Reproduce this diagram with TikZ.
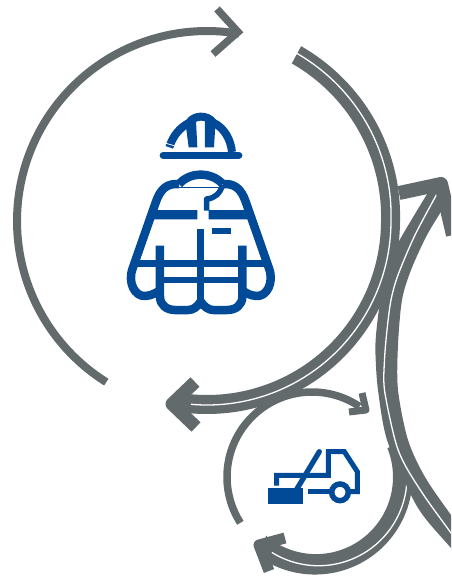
\documentclass[tikz,border=0pt]{standalone}
\definecolor{band}{HTML}{626A6C}
\definecolor{icon}{HTML}{004A98}
\tikzset{
  thinarc/.style={draw=band,line width=8pt},
  gap/.style={draw=white,line width=1.3pt},
  headline/.style={draw=band,line join=round,line cap=butt},
  ico/.style={draw=icon,line width=8.5pt,line cap=butt,line join=round},
  icofill/.style={fill=icon,draw=none}
}
\begin{document}
\begin{tikzpicture}[x=1pt,y=-1pt]
\useasboundingbox (0,0) rectangle (451,576);
\clip (0,0) rectangle (451,576);
% thin arcs
\draw[thinarc] plot[domain=238:80.3,samples=60,variable=\t,smooth] ({207+190*cos(\t)},{221-190*sin(\t)});
\draw[headline,line width=7.5pt,miter limit=10,line join=miter] (217,9) -- (238,32) -- (213,54);
\draw[thinarc,line width=7.5pt] plot[domain=212.6:56,samples=50,variable=\t,smooth] ({312+85*cos(\t)},{477-85*sin(\t)});
\draw[headline,line width=7pt] (362,393) -- (366,410) -- (349,412);
% band 3
\fill[band] plot[domain=21:-128,samples=60,variable=\t,smooth] ({312+(77+4*cos(\t))*cos(\t)},{477-(77+4*cos(\t))*sin(\t)})
  -- (262,550)
  -- plot[domain=-115:21,samples=60,variable=\t,smooth] ({312+(97.5+3*cos(\t))*cos(\t)},{477-(97.5+3*cos(\t))*sin(\t)}) -- cycle;
\draw[gap] plot[domain=14:-118,samples=60,variable=\t,smooth] ({312+(88.5+6.5*cos(\t))*cos(\t)},{477-(88.5+6.5*cos(\t))*sin(\t)});
\draw[headline,line width=11pt] (285,538) -- (259,545) -- (269,571);
% band 2
\fill[band] plot[smooth] coordinates {(432,186)(398,243)(388,270)(380,303)(376,335)(375.5,355)(378,390)(387,440)(411,495)(425,518)(451,548)(470,570)}
  -- plot[smooth] coordinates {(470,540)(451,515)(425,477)(408,440)(398,390)(398,345)(402,300)(411,270)(427,235)(446,203)(449,190)} -- cycle;
\draw[gap] plot[smooth] coordinates {(438,192)(415,235)(398,275)(391,300)(387,330)(384.5,360)(384.5,390)(395,440)(405,465)(425,497)(451,533)(470,560)};
\draw[headline,line width=14pt] (399,193) -- (441,184) -- (453,235);
% band 1
\fill[band] plot[domain=61.7:-99,samples=80,variable=\t,smooth] ({207+(174+max(\t,0)*0.08)*cos(\t)},{221-(174+max(\t,0)*0.08)*sin(\t)})
  -- (176,404)
  -- plot[domain=-99:61.7,samples=80,variable=\t,smooth] ({207+(193+max(\t,0)*0.09)*cos(\t)},{221-(193+max(\t,0)*0.09)*sin(\t)}) -- cycle;
\draw[gap] plot[domain=63:-95,samples=80,variable=\t,smooth] ({207+(184+max(\t,0)*0.1)*cos(\t)},{221-(184+max(\t,0)*0.1)*sin(\t)});
\draw[headline,line width=13pt] (195,382) -- (172,404) -- (196,427);
% helmet and jacket
\begin{scope}[x=0.33333pt,y=-0.33333pt,shift={(330,300)}]
\draw[ico,line width=7.5pt,line cap=round] (160,166) -- (386,166);
\draw[ico,line width=8pt] (178,142) .. controls (188,108) and (210,82) .. (238,68) .. controls (250,46) and (292,42) .. (310,68) .. controls (345,85) and (362,120) .. (366,156);
\fill[icon] (228,80) -- (258,62) -- (262,142) -- (236,142) -- cycle;
\fill[icon] (285,60) -- (316,75) -- (312,142) -- (285,142) -- cycle;
\draw[white,line width=0.8pt] (168,130) -- (192,137);
% jacket
\draw[ico] (207,252) .. controls (225,232) and (250,224) .. (272,224) .. controls (295,224) and (320,232) .. (338,252);
\draw[ico] (207,252) .. controls (172,250) and (152,265) .. (138,305) -- (68,505) .. controls (52,548) and (75,590) .. (105,588) .. controls (125,587) and (140,578) .. (150,570);
\draw[ico] (338,252) .. controls (373,250) and (393,265) .. (407,305) -- (477,505) .. controls (493,548) and (470,590) .. (440,588) .. controls (420,587) and (405,578) .. (397,570);
\draw[ico] (150,437) -- (150,590) .. controls (150,615) and (170,630) .. (195,630) -- (235,630) .. controls (250,630) and (262,620) .. (272,605);
\draw[ico] (397,437) -- (397,590) .. controls (397,615) and (377,630) .. (352,630) -- (310,630) .. controls (295,630) and (283,620) .. (272,605);
\draw[ico,line width=7pt] (272,387) -- (272,608);
\draw[ico,line width=6.7pt] (82,490) -- (463,490);
\draw[ico,line width=6pt] (150,540) -- (397,540);
\fill[icofill] (137,330) -- (262,330) -- (262,358) -- (127,358) -- cycle;
\fill[icofill] (296,330) -- (410,330) -- (420,358) -- (296,358) -- cycle;
\fill[icofill] (305,385) rectangle (362,403);
\draw[ico,line width=5.5pt] (290,332) -- (290,297) .. controls (315,295) and (330,280) .. (338,255);
\draw[icon,line width=1pt] (208,263) -- (328,263);
\end{scope}
% truck
\begin{scope}[x=0.33333pt,y=-0.33333pt,shift={(780,1320)}]
\fill[icon] (24,145) rectangle (130,192);
\draw[icon,line width=5.2pt,line cap=round] (178,35) -- (110,148);
\draw[icon,line width=5pt,line join=miter] (50,137) -- (50,106) -- (205,106) -- (205,35) -- (253,35) -- (292,95) -- (292,155) -- (268,155);
\draw[icon,line width=5pt] (145,155) -- (215,155);
\draw[icon,line width=5.5pt] (240,157) circle (25);
\end{scope}
\end{tikzpicture}
\end{document}
